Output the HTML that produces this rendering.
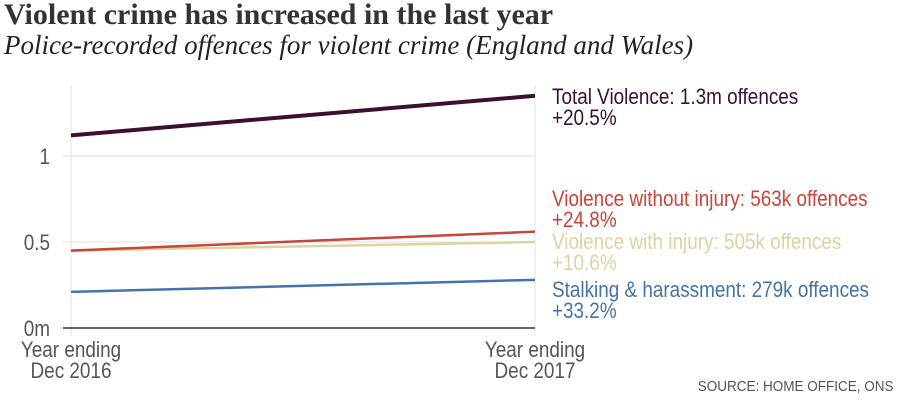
<!DOCTYPE html>
<html><head><meta charset="utf-8"><style>
body{margin:0;width:902px;height:410px;background:#fff;overflow:hidden;position:relative;font-family:"Liberation Sans Narrow","Liberation Sans",sans-serif}
.t{position:absolute;left:4px;top:-2px;font:bold 30px "Liberation Serif",serif;color:#333}
.s{position:absolute;left:4px;top:30px;font:italic 27px "Liberation Serif",serif;color:#222}
.src{position:absolute;right:8px;top:378px;font-size:15px;color:#555;transform:scaleX(0.9);transform-origin:right}
</style></head><body>
<div class="t">Violent crime has increased in the last year</div>
<div class="s">Police-recorded offences for violent crime (England and Wales)</div>
<svg id="c" width="902" height="410" style="position:absolute;left:0;top:0"></svg>
<div class="src">SOURCE: HOME OFFICE, ONS</div>
<script>
const categories=["Year ending|Dec 2016","Year ending|Dec 2017"];
const seriesNames=["Total Violence: 1.3m offences","Violence without injury: 563k offences","Violence with injury: 505k offences","Stalking & harassment: 279k offences"];
const seriesChange=["+20.5%","+24.8%","+10.6%","+33.2%"];
const totalValues=[1.12,1.35];
const withoutInjuryValues=[0.45,0.56];
const withInjuryValues=[0.45,0.50];
const stalkingValues=[0.21,0.28];
const yTicks=[0,0.5,1];
const yTickLabels=["0m","0.5","1"];
const series=[totalValues,withoutInjuryValues,withInjuryValues,stalkingValues];
const colors=["#3d0f33","#c9443b","#ddd3a0","#4573a7"];
const widths=[4,2.5,2.5,2.5];
const labelY=[104,206,249,297];
const svg=document.getElementById('c');
const NS="http://www.w3.org/2000/svg";
const x=i=>71+i*(535-71)/(categories.length-1);
const y=v=>328-v*172;
const SX=0.86;
function mk(t,a){const e=document.createElementNS(NS,t);for(const k in a)e.setAttribute(k,a[k]);svg.appendChild(e);return e;}
function txt(px,py,s,fill,anchor){const t=mk('text',{x:px/SX,y:py,'text-anchor':anchor,'font-size':22,fill:fill,transform:'scale('+SX+',1)'});t.textContent=s;return t;}
categories.forEach((c,i)=>{
 const l=mk('line',{x1:x(i),x2:x(i),y1:85,y2:336,stroke:'#e2e2e2','stroke-width':1});
 
 
 c.split('|').forEach((p,j)=>{const t=txt(x(i),357+j*21,p,'#555','middle');
 
 });
});
yTicks.forEach((v,i)=>{
 const l=mk('line',{x1:63,x2:535,y1:y(v),y2:y(v),stroke:v===0?'#333':'#e2e2e2','stroke-width':v===0?1.5:1});
 
 
 const t=txt(50,y(v)+8,yTickLabels[i],'#555','end');
 
 
});
[2,1,3,0].forEach(s=>{
 const pts=series[s].map((v,i)=>x(i)+','+y(v)).join(' ');
 const p=mk('polyline',{points:pts,fill:'none',stroke:colors[s],'stroke-width':widths[s]});
 
 
});
seriesNames.forEach((n,s)=>{
 const t=txt(552,labelY[s],n,colors[s],'start');
 
 
 const t2=txt(552,labelY[s]+21,seriesChange[s],colors[s],'start');
 
 
});
</script>
</body></html>
